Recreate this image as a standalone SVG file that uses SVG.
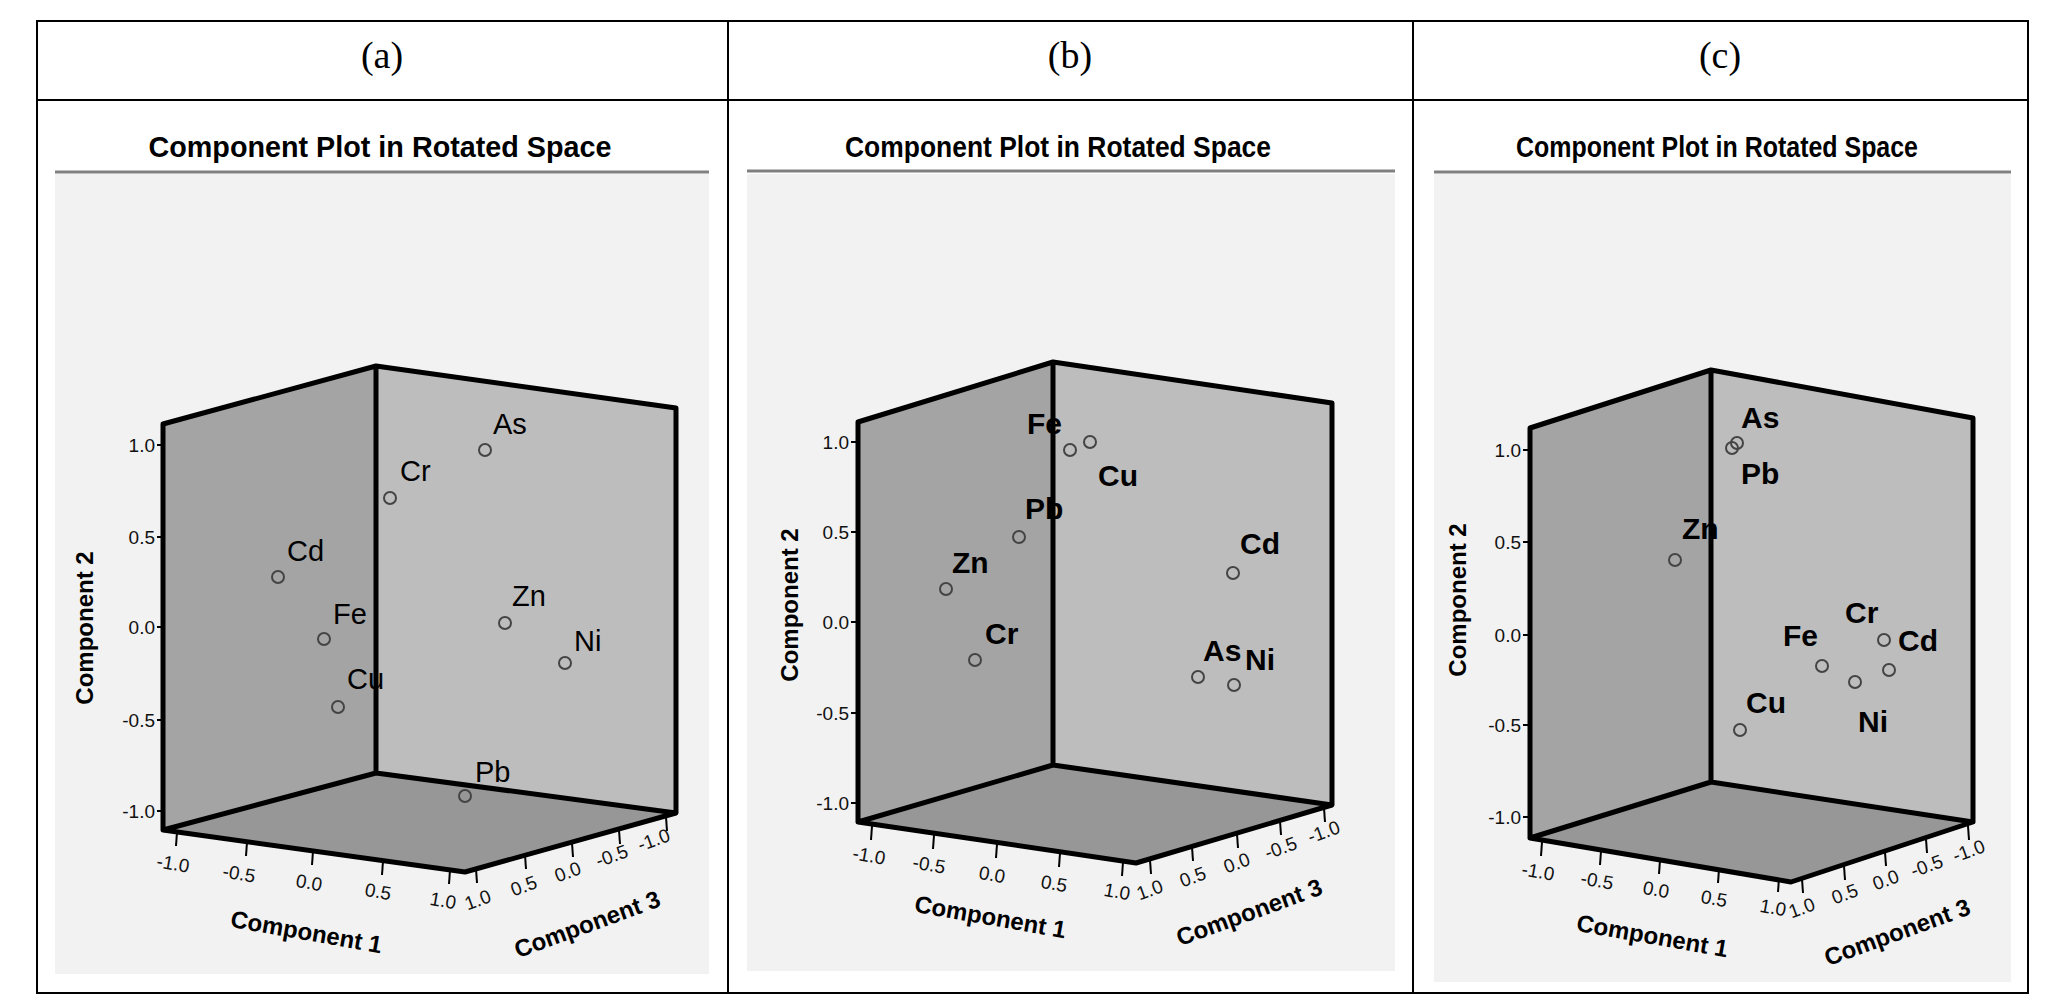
<svg xmlns="http://www.w3.org/2000/svg" width="2056" height="1000" viewBox="0 0 2056 1000">
<style>
.hd{font-family:"Liberation Serif",serif;font-size:38px;text-anchor:middle}
.tt{font-family:"Liberation Sans",Arial,sans-serif;font-weight:bold;font-size:30px;text-anchor:middle}
.bg{fill:#f2f2f2}
.ul{stroke:#808080;stroke-width:3}
.lw{fill:#a4a4a4}
.rw{fill:#bdbdbd}
.fl{fill:#979797}
.ed{fill:none;stroke:#000;stroke-width:5;stroke-linejoin:round}
.tk{stroke:#000;stroke-width:2}
.tl{font-family:"Liberation Sans",Arial,sans-serif;font-size:19px;fill:#111}
.ax{font-family:"Liberation Sans",Arial,sans-serif;font-weight:bold;font-size:24px;text-anchor:middle}
.pt{fill:none;stroke:#444;stroke-width:2}
.lb{font-family:"Liberation Sans",Arial,sans-serif;font-weight:bold;font-size:30px}
.lbn{font-family:"Liberation Sans",Arial,sans-serif;font-size:29px}
</style>
<rect x="0" y="0" width="2056" height="1000" fill="#fff"/>
<g id="table" fill="none" stroke="#000" stroke-width="2">
<rect x="37" y="21" width="1991" height="972"/>
<line x1="37" y1="100" x2="2028" y2="100"/>
<line x1="728" y1="21" x2="728" y2="993"/>
<line x1="1413" y1="21" x2="1413" y2="993"/>
</g>
<text class="hd" x="382" y="68">(a)</text>
<text class="hd" x="1070" y="68">(b)</text>
<text class="hd" x="1720" y="68">(c)</text>

<!-- Panel a -->
<g id="panel-a">
<rect class="bg" x="55" y="174" width="654" height="800"/>
<line class="ul" x1="55" y1="172" x2="709" y2="172"/>
<text class="tt" x="380" y="157" textLength="463" lengthAdjust="spacingAndGlyphs">Component Plot in Rotated Space</text>
<polygon class="lw" points="163,424 376,366 376,773 163,830"/>
<polygon class="rw" points="376,366 676,408 676,813 376,773"/>
<polygon class="fl" points="163,830 376,773 676,813 465,872"/>
<path class="ed" d="M163,830 L163,424 L376,366 L676,408 L676,813 M376,366 L376,773 M163,830 L376,773 L676,813 L465,872 Z"/>
<g class="tk"><line x1="157" y1="445" x2="163" y2="445"/><line x1="157" y1="537" x2="163" y2="537"/><line x1="157" y1="627" x2="163" y2="627"/><line x1="157" y1="720" x2="163" y2="720"/><line x1="157" y1="811" x2="163" y2="811"/>
<line x1="177" y1="832" x2="176" y2="846"/><line x1="247" y1="842" x2="246" y2="856"/><line x1="313" y1="851" x2="312" y2="865"/><line x1="383" y1="861" x2="382" y2="875"/><line x1="450" y1="870" x2="449" y2="884"/>
<line x1="476" y1="869" x2="477" y2="883"/><line x1="525" y1="855" x2="526" y2="869"/><line x1="572" y1="843" x2="573" y2="857"/><line x1="619" y1="830" x2="620" y2="844"/><line x1="666" y1="817" x2="667" y2="831"/></g>
<g class="tl" text-anchor="end"><text x="155" y="452">1.0</text><text x="155" y="544">0.5</text><text x="155" y="634">0.0</text><text x="155" y="727">-0.5</text><text x="155" y="818">-1.0</text></g>
<g class="tl" text-anchor="middle">
<text transform="translate(172,870) rotate(10)">-1.0</text><text transform="translate(238,880) rotate(10)">-0.5</text><text transform="translate(308,889) rotate(10)">0.0</text><text transform="translate(377,898) rotate(10)">0.5</text><text transform="translate(442,907) rotate(10)">1.0</text>
<text transform="translate(480,906) rotate(-20)">1.0</text><text transform="translate(526,892) rotate(-20)">0.5</text><text transform="translate(570,878) rotate(-20)">0.0</text><text transform="translate(614,862) rotate(-20)">-0.5</text><text transform="translate(656,846) rotate(-20)">-1.0</text></g>
<text class="ax" transform="translate(305,940) rotate(10)">Component 1</text>
<text class="ax" transform="translate(590,932) rotate(-20)">Component 3</text>
<text class="ax" transform="translate(93,628) rotate(-90)">Component 2</text>
<g class="pt"><circle cx="278" cy="577" r="6"/><circle cx="324" cy="639" r="6"/><circle cx="338" cy="707" r="6"/><circle cx="390" cy="498" r="6"/><circle cx="485" cy="450" r="6"/><circle cx="505" cy="623" r="6"/><circle cx="565" cy="663" r="6"/><circle cx="465" cy="796" r="6"/></g>
<g class="lbn"><text x="287" y="561">Cd</text><text x="333" y="624">Fe</text><text x="347" y="689">Cu</text><text x="400" y="481">Cr</text><text x="493" y="434">As</text><text x="512" y="606">Zn</text><text x="574" y="651">Ni</text><text x="475" y="782">Pb</text></g>
</g>

<!-- Panel b -->
<g id="panel-b">
<rect class="bg" x="747" y="174" width="648" height="797"/>
<line class="ul" x1="747" y1="171" x2="1395" y2="171"/>
<text class="tt" x="1058" y="157" textLength="426" lengthAdjust="spacingAndGlyphs">Component Plot in Rotated Space</text>
<polygon class="lw" points="858,422 1053,362 1053,765 858,822"/>
<polygon class="rw" points="1053,362 1332,403 1332,805 1053,765"/>
<polygon class="fl" points="858,822 1053,765 1332,805 1136,863"/>
<path class="ed" d="M858,822 L858,422 L1053,362 L1332,403 L1332,805 M1053,362 L1053,765 M858,822 L1053,765 L1332,805 L1136,863 Z"/>
<g class="tk"><line x1="851" y1="442" x2="858" y2="442"/><line x1="851" y1="532" x2="858" y2="532"/><line x1="851" y1="622" x2="858" y2="622"/><line x1="851" y1="713" x2="858" y2="713"/><line x1="851" y1="803" x2="858" y2="803"/>
<line x1="872" y1="826" x2="871" y2="840"/><line x1="934" y1="835" x2="933" y2="849"/><line x1="997" y1="844" x2="996" y2="858"/><line x1="1060" y1="853" x2="1059" y2="867"/><line x1="1123" y1="862" x2="1122" y2="876"/>
<line x1="1150" y1="860" x2="1151" y2="874"/><line x1="1192" y1="847" x2="1193" y2="861"/><line x1="1237" y1="834" x2="1238" y2="848"/><line x1="1280" y1="821" x2="1281" y2="835"/><line x1="1324" y1="808" x2="1325" y2="822"/></g>
<g class="tl" text-anchor="end"><text x="849" y="449">1.0</text><text x="849" y="539">0.5</text><text x="849" y="629">0.0</text><text x="849" y="720">-0.5</text><text x="849" y="810">-1.0</text></g>
<g class="tl" text-anchor="middle">
<text transform="translate(868,862) rotate(10)">-1.0</text><text transform="translate(928,871) rotate(10)">-0.5</text><text transform="translate(991,881) rotate(10)">0.0</text><text transform="translate(1053,890) rotate(10)">0.5</text><text transform="translate(1116,898) rotate(10)">1.0</text>
<text transform="translate(1152,896) rotate(-20)">1.0</text><text transform="translate(1195,883) rotate(-20)">0.5</text><text transform="translate(1239,869) rotate(-20)">0.0</text><text transform="translate(1283,854) rotate(-20)">-0.5</text><text transform="translate(1326,838) rotate(-20)">-1.0</text></g>
<text class="ax" transform="translate(989,925) rotate(10)">Component 1</text>
<text class="ax" transform="translate(1252,920) rotate(-20)">Component 3</text>
<text class="ax" transform="translate(798,605) rotate(-90)">Component 2</text>
<g class="pt"><circle cx="1070" cy="450" r="6"/><circle cx="1019" cy="537" r="6"/><circle cx="946" cy="589" r="6"/><circle cx="975" cy="660" r="6"/><circle cx="1090" cy="442" r="6"/><circle cx="1233" cy="573" r="6"/><circle cx="1198" cy="677" r="6"/><circle cx="1234" cy="685" r="6"/></g>
<g class="lb"><text x="1027" y="434">Fe</text><text x="1025" y="519">Pb</text><text x="952" y="573">Zn</text><text x="985" y="644">Cr</text><text x="1098" y="486">Cu</text><text x="1240" y="554">Cd</text><text x="1203" y="661">As</text><text x="1245" y="670">Ni</text></g>
</g>

<!-- Panel c -->
<g id="panel-c">
<rect class="bg" x="1434" y="174" width="577" height="808"/>
<line class="ul" x1="1434" y1="172" x2="2011" y2="172"/>
<text class="tt" x="1717" y="157" textLength="402" lengthAdjust="spacingAndGlyphs">Component Plot in Rotated Space</text>
<polygon class="lw" points="1530,428 1711,370 1711,782 1530,838"/>
<polygon class="rw" points="1711,370 1973,418 1973,822 1711,782"/>
<polygon class="fl" points="1530,838 1711,782 1973,822 1791,882"/>
<path class="ed" d="M1530,838 L1530,428 L1711,370 L1973,418 L1973,822 M1711,370 L1711,782 M1530,838 L1711,782 L1973,822 L1791,882 Z"/>
<g class="tk"><line x1="1523" y1="450" x2="1530" y2="450"/><line x1="1523" y1="542" x2="1530" y2="542"/><line x1="1523" y1="635" x2="1530" y2="635"/><line x1="1523" y1="725" x2="1530" y2="725"/><line x1="1523" y1="817" x2="1530" y2="817"/>
<line x1="1542" y1="842" x2="1541" y2="856"/><line x1="1601" y1="851" x2="1600" y2="865"/><line x1="1660" y1="860" x2="1659" y2="874"/><line x1="1719" y1="869" x2="1718" y2="883"/><line x1="1779" y1="878" x2="1778" y2="892"/>
<line x1="1802" y1="879" x2="1803" y2="893"/><line x1="1844" y1="866" x2="1845" y2="880"/><line x1="1885" y1="852" x2="1886" y2="866"/><line x1="1926" y1="839" x2="1927" y2="853"/><line x1="1968" y1="826" x2="1969" y2="840"/></g>
<g class="tl" text-anchor="end"><text x="1521" y="457">1.0</text><text x="1521" y="549">0.5</text><text x="1521" y="642">0.0</text><text x="1521" y="732">-0.5</text><text x="1521" y="824">-1.0</text></g>
<g class="tl" text-anchor="middle">
<text transform="translate(1537,878) rotate(10)">-1.0</text><text transform="translate(1596,887) rotate(10)">-0.5</text><text transform="translate(1655,896) rotate(10)">0.0</text><text transform="translate(1713,905) rotate(10)">0.5</text><text transform="translate(1772,914) rotate(10)">1.0</text>
<text transform="translate(1804,914) rotate(-20)">1.0</text><text transform="translate(1847,900) rotate(-20)">0.5</text><text transform="translate(1888,886) rotate(-20)">0.0</text><text transform="translate(1929,872) rotate(-20)">-0.5</text><text transform="translate(1971,857) rotate(-20)">-1.0</text></g>
<text class="ax" transform="translate(1651,944) rotate(10)">Component 1</text>
<text class="ax" transform="translate(1900,940) rotate(-20)">Component 3</text>
<text class="ax" transform="translate(1466,600) rotate(-90)">Component 2</text>
<g class="pt"><circle cx="1737" cy="443" r="6"/><circle cx="1732" cy="448" r="6"/><circle cx="1675" cy="560" r="6"/><circle cx="1884" cy="640" r="6"/><circle cx="1889" cy="670" r="6"/><circle cx="1822" cy="666" r="6"/><circle cx="1855" cy="682" r="6"/><circle cx="1740" cy="730" r="6"/></g>
<g class="lb"><text x="1741" y="428">As</text><text x="1741" y="484">Pb</text><text x="1682" y="539">Zn</text><text x="1845" y="623">Cr</text><text x="1898" y="651">Cd</text><text x="1783" y="646">Fe</text><text x="1858" y="732">Ni</text><text x="1746" y="713">Cu</text></g>
</g>
</svg>
